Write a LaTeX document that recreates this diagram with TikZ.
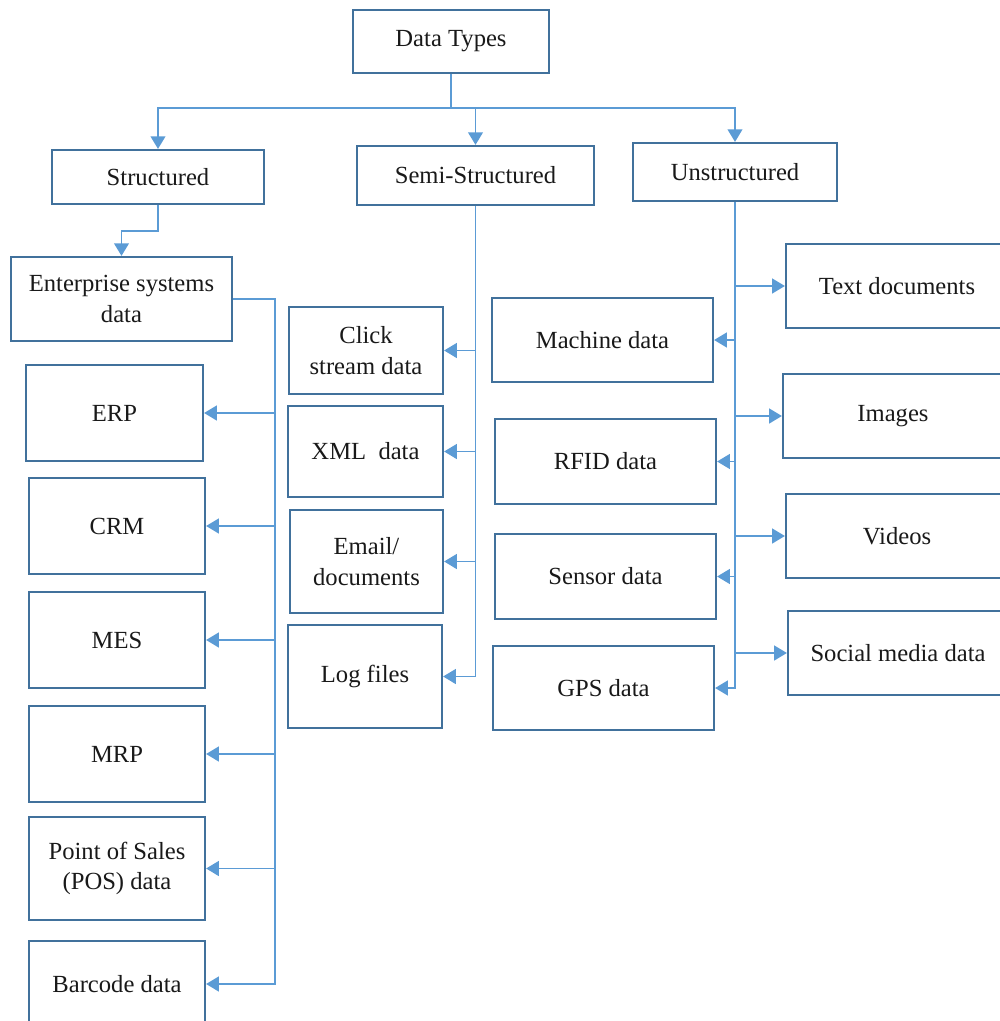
\documentclass[tikz,border=0pt]{standalone}
\usepackage{fontspec}
\setmainfont{Liberation Serif}
\usetikzlibrary{arrows.meta}

\definecolor{boxblue}{HTML}{41719C}
\definecolor{linkblue}{HTML}{5B9BD5}

\begin{document}
\begin{tikzpicture}[x=0.01cm, y=-0.01cm,
    box/.style={draw=boxblue, line width=0.6pt, align=center, inner sep=1pt,
      font=\fontsize{7}{8.6}\selectfont, text=black!90},
    conn/.style={draw=linkblue, line width=0.5pt,
      -{Triangle[length=3.6pt, width=4.2pt]}},
    link/.style={draw=linkblue, line width=0.5pt}]
  % Marco
  \clip (0,0) rectangle (1000,1021);

  % Raíz y categorías
  \node[box, minimum width=1.96cm, minimum height=0.63cm] (top) at (451,41.5) {Data Types};
  \node[box, minimum width=2.12cm, minimum height=0.54cm] (str) at (158,177) {Structured};
  \node[box, minimum width=2.37cm, minimum height=0.59cm] (semi) at (475.5,175.5) {Semi-Structured};
  \node[box, minimum width=2.04cm, minimum height=0.58cm] (uns) at (735,172) {Unstructured};

  % Datos estructurados
  \node[box, minimum width=2.21cm, minimum height=0.84cm] (ent) at (121.5,299) {Enterprise systems\\data};
  \node[box, minimum width=1.77cm, minimum height=0.96cm] (erp) at (114.5,413) {ERP};
  \node[box, minimum width=1.76cm, minimum height=0.96cm] (crm) at (117,526) {CRM};
  \node[box, minimum width=1.76cm, minimum height=0.96cm] (mes) at (117,640) {MES};
  \node[box, minimum width=1.76cm, minimum height=0.96cm] (mrp) at (117,754) {MRP};
  \node[box, minimum width=1.76cm, minimum height=1.03cm] (pos) at (117,868.5) {Point of Sales\\(POS) data};
  \node[box, minimum width=1.76cm, minimum height=0.86cm] (bar) at (117,984) {Barcode data};

  % Datos semiestructurados
  \node[box, minimum width=1.54cm, minimum height=0.87cm] (click) at (366,350.5) {Click\\stream data};
  \node[box, minimum width=1.55cm, minimum height=0.91cm] (xml) at (365.5,451.5) {XML~ data};
  \node[box, minimum width=1.53cm, minimum height=1.03cm] (email) at (366.5,561.5) {Email/\\documents};
  \node[box, minimum width=1.54cm, minimum height=1.03cm] (log) at (365,676.5) {Log files};

  % Datos no estructurados
  \node[box, minimum width=2.21cm, minimum height=0.84cm] (mach) at (602.5,340) {Machine data};
  \node[box, minimum width=2.21cm, minimum height=0.85cm] (rfid) at (605.5,461.5) {RFID data};
  \node[box, minimum width=2.21cm, minimum height=0.85cm] (sens) at (605.5,576.5) {Sensor data};
  \node[box, minimum width=2.21cm, minimum height=0.84cm] (gps) at (603.5,688) {GPS data};
  \node[box, minimum width=2.22cm, minimum height=0.84cm] (txt) at (897,286) {Text documents};
  \node[box, minimum width=2.20cm, minimum height=0.84cm] (img) at (893,416) {Images};
  \node[box, minimum width=2.22cm, minimum height=0.84cm] (vid) at (897,536) {Videos};
  \node[box, minimum width=2.20cm, minimum height=0.84cm] (soc) at (898,653) {Social media data};

  % Conexiones desde la raíz
  \coordinate (j0) at (451,108);
  \draw[link] (top.south) -- (j0);
  \draw[conn] (j0) -| (str.north);
  \draw[conn] (j0) -| (semi.north);
  \draw[conn] (j0) -| (uns.north);

  % Rama estructurada
  \coordinate (j1) at (158,231);
  \draw[conn] (str.south) -- (j1) -| (ent.north);
  \coordinate (b1) at (275,299);
  \draw[conn] (ent.east) -- (b1) |- (bar.east);
  \foreach \n in {erp,crm,mes,mrp,pos}
    \draw[conn] (b1 |- \n.east) -- (\n.east);

  % Rama semiestructurada
  \draw[conn] (semi.south) |- (log.east);
  \foreach \n in {click,xml,email}
    \draw[conn] (semi.south |- \n.east) -- (\n.east);

  % Rama no estructurada
  \draw[conn] (uns.south) |- (gps.east);
  \foreach \n in {mach,rfid,sens}
    \draw[conn] (uns.south |- \n.east) -- (\n.east);
  \foreach \n in {txt,img,vid,soc}
    \draw[conn] (uns.south |- \n.west) -- (\n.west);
\end{tikzpicture}
\end{document}
